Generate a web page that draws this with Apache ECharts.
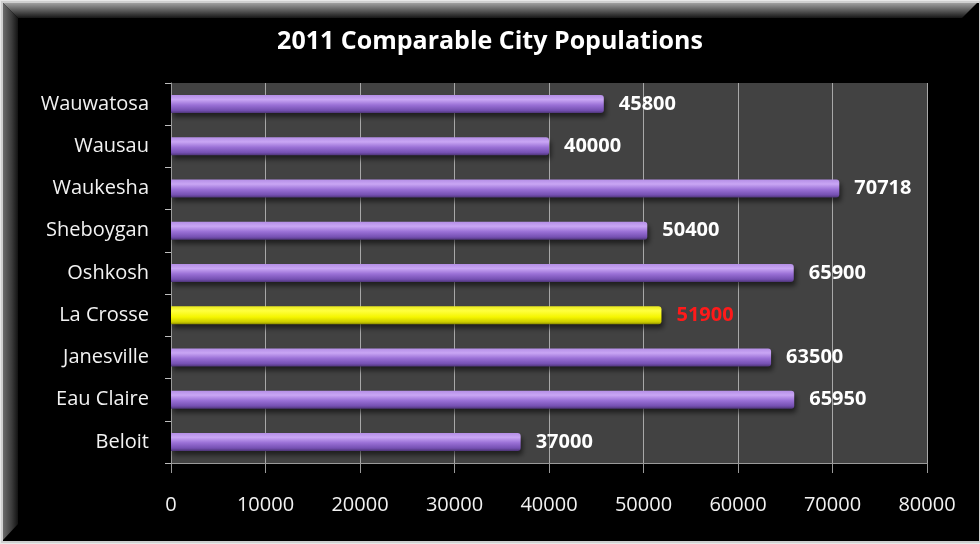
<!DOCTYPE html>
<html>
<head>
<meta charset="utf-8">
<script src="https://cdn.jsdelivr.net/npm/echarts@6/dist/echarts.min.js"></script>
<style>
  html, body { margin: 0; padding: 0; background: #e8e8e8; }
  #chart { width: 980px; height: 544px; }
</style>
</head>
<body>
<div id="chart"></div>
<script>
// City populations, 2011 (top to bottom)
const cities = ['Wauwatosa', 'Wausau', 'Waukesha', 'Sheboygan', 'Oshkosh', 'La Crosse', 'Janesville', 'Eau Claire', 'Beloit'];
const populations = [45800, 40000, 70718, 50400, 65900, 51900, 63500, 65950, 37000];
const highlightCity = 'La Crosse';
const xTicks = [0, 10000, 20000, 30000, 40000, 50000, 60000, 70000, 80000];

const FONT = '"Open Sans", "DejaVu Sans", sans-serif';

const purpleFill = new echarts.graphic.LinearGradient(0, 0, 0, 1, [
  { offset: 0, color: '#b48ee6' },
  { offset: 0.25, color: '#c9a6f4' },
  { offset: 0.55, color: '#9a70d6' },
  { offset: 0.85, color: '#7550b2' },
  { offset: 1, color: '#4e3578' }
]);
const yellowFill = new echarts.graphic.LinearGradient(0, 0, 0, 1, [
  { offset: 0, color: '#e8e820' },
  { offset: 0.25, color: '#ffff40' },
  { offset: 0.6, color: '#f6f600' },
  { offset: 0.88, color: '#cccc00' },
  { offset: 1, color: '#8a8a00' }
]);

const barData = cities.map((c, i) => {
  const hot = c === highlightCity;
  return {
    value: populations[i],
    itemStyle: { color: hot ? yellowFill : purpleFill },
    label: { color: hot ? '#ff1a1a' : '#ffffff' }
  };
});

const chart = echarts.init(document.getElementById('chart'), null, { renderer: 'canvas' });

chart.setOption({
  backgroundColor: 'transparent',
  animation: false,
  title: {
    text: '2011 Comparable City Populations',
    left: 'center',
    top: 24,
    textStyle: { color: '#ffffff', fontFamily: FONT, fontWeight: 'bold', fontSize: 25 }
  },
  graphic: [
    // black panel with a light rim
    { type: 'rect', z: -10, silent: true, shape: { x: 2, y: 2, width: 978, height: 540 },
      style: { fill: '#000000', stroke: '#cfcfcf', lineWidth: 2 } },
    // top bevel
    { type: 'polygon', z: -9, silent: true,
      shape: { points: [[3, 3], [977, 3], [962, 18], [18, 18]] },
      style: { fill: new echarts.graphic.LinearGradient(0, 0, 0, 1, [
        { offset: 0, color: '#a0a0a0' }, { offset: 0.5, color: '#5a5a5a' }, { offset: 1, color: '#161616' }
      ]) } },
    // left bevel
    { type: 'polygon', z: -9, silent: true,
      shape: { points: [[3, 3], [18, 18], [18, 524], [3, 540]] },
      style: { fill: new echarts.graphic.LinearGradient(0, 0, 1, 0, [
        { offset: 0, color: '#6a6a6a' }, { offset: 0.6, color: '#3a3a3a' }, { offset: 1, color: '#121212' }
      ]) } }
  ],
  grid: {
    left: 171, right: 53, top: 83, bottom: 81,
    show: true,
    backgroundColor: '#424242',
    borderWidth: 0
  },
  xAxis: {
    type: 'value',
    min: 0, max: 80000, interval: 10000,
    axisLine: { show: true, lineStyle: { color: '#9a9a9a', width: 1 } },
    axisTick: { show: true, length: 10, lineStyle: { color: '#9a9a9a' } },
    splitLine: { show: true, lineStyle: { color: '#a8a8a8', width: 1 } },
    axisLabel: {
      color: '#f2f2f2', fontFamily: FONT, fontSize: 20, margin: 32,
      formatter: v => (xTicks.includes(v) ? String(v) : '')
    }
  },
  yAxis: {
    type: 'category',
    data: cities,
    inverse: true,
    axisLine: { show: true, lineStyle: { color: '#9a9a9a', width: 1 } },
    axisTick: { show: true, length: 6, lineStyle: { color: '#bdbdbd' } },
    splitLine: { show: false },
    axisLabel: { color: '#f2f2f2', fontFamily: FONT, fontSize: 20, margin: 22 }
  },
  series: [{
    type: 'bar',
    data: barData,
    barWidth: 18,
    itemStyle: {
      borderRadius: [0, 3, 3, 0],
      shadowColor: 'rgba(0,0,0,0.55)',
      shadowBlur: 5,
      shadowOffsetY: 4,
      shadowOffsetX: 2
    },
    label: {
      show: true,
      position: 'right',
      distance: 15,
      fontFamily: FONT,
      fontWeight: 'bold',
      fontSize: 20
    }
  }]
});
</script>
</body>
</html>
